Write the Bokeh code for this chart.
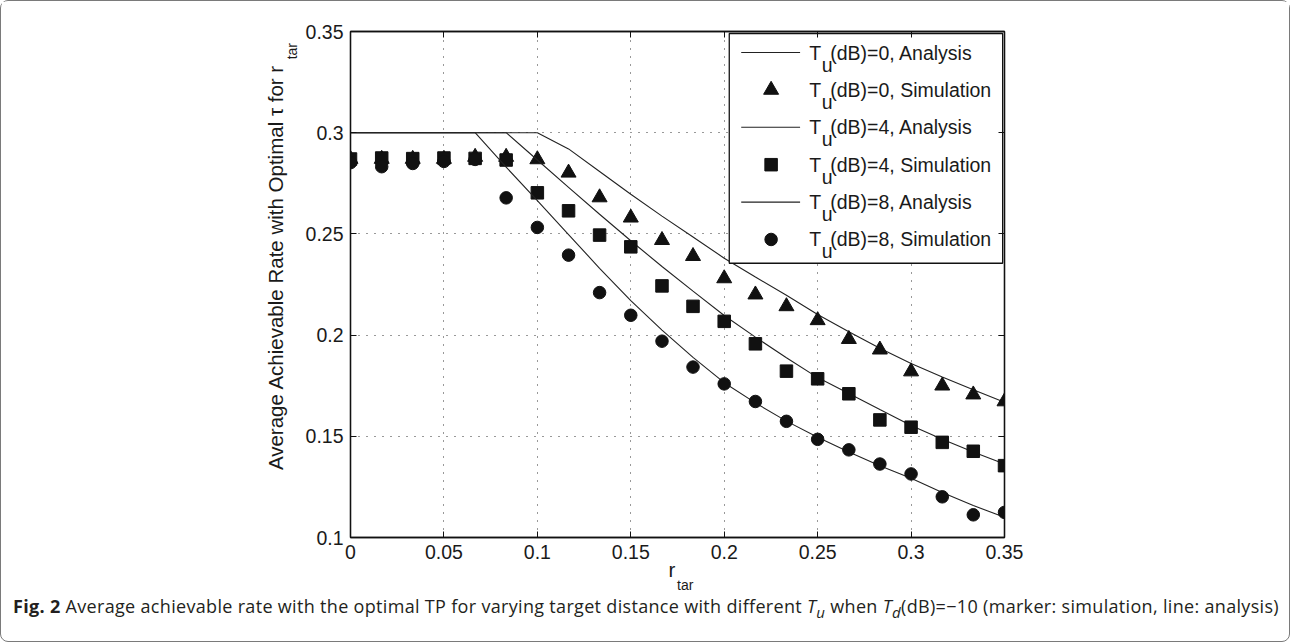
from bokeh.plotting import figure
from bokeh.models import (LinearAxis, FixedTicker, NumeralTickFormatter,
                          CustomJSTickFormatter, Div)
from bokeh.layouts import column
from bokeh.core.properties import value
from bokeh.embed import file_html
from bokeh.resources import INLINE

# ---------------- data ----------------
r_tar = [0.0, 0.0167, 0.0333, 0.05, 0.0667, 0.0833, 0.1, 0.1167, 0.1333, 0.15, 0.1667,
         0.1833, 0.2, 0.2167, 0.2333, 0.25, 0.2667, 0.2833, 0.3, 0.3167, 0.3333, 0.35]

# analysis curves, T_u(dB) = 0 / 4 / 8
ana_tu0 = [0.3, 0.3, 0.3, 0.3, 0.3, 0.3, 0.3, 0.292, 0.2808, 0.2696, 0.2588,
           0.2485, 0.2380, 0.2287, 0.2197, 0.2102, 0.2017, 0.1935, 0.1860, 0.1793, 0.1730, 0.1668]
ana_tu4 = [0.3, 0.3, 0.3, 0.3, 0.3, 0.3, 0.2865, 0.2730, 0.2597, 0.2466, 0.2339,
           0.2217, 0.2097, 0.1990, 0.1888, 0.1790, 0.1711, 0.1632, 0.1553, 0.1485, 0.1422, 0.1363]
ana_tu8 = [0.3, 0.3, 0.3, 0.3, 0.3, 0.2830, 0.2665, 0.2497, 0.2330, 0.2170, 0.2025,
           0.1890, 0.1765, 0.1665, 0.1575, 0.1495, 0.1422, 0.1355, 0.1293, 0.1222, 0.1158, 0.1100]

# simulation results
sim_tu0 = [0.287, 0.287, 0.287, 0.287, 0.288, 0.288, 0.2868, 0.2802, 0.268, 0.258, 0.2469,
           0.239, 0.228, 0.220, 0.2142, 0.2073, 0.198, 0.1928, 0.1820, 0.175, 0.1706, 0.1672]
sim_tu4 = [0.287, 0.2875, 0.2872, 0.2875, 0.2873, 0.2865, 0.2703, 0.2614, 0.2494, 0.2436, 0.2243,
           0.2142, 0.2068, 0.1957, 0.1822, 0.1784, 0.171, 0.1581, 0.1545, 0.147, 0.1426, 0.1355]
sim_tu8 = [0.2852, 0.2832, 0.2848, 0.2858, 0.2868, 0.2678, 0.2532, 0.2395, 0.221, 0.2098, 0.197,
           0.1842, 0.1759, 0.1672, 0.1574, 0.1485, 0.1433, 0.1363, 0.1314, 0.1201, 0.1112, 0.1124]

x_ticks = [0, 0.05, 0.1, 0.15, 0.2, 0.25, 0.3, 0.35]
y_ticks = [0.1, 0.15, 0.2, 0.25, 0.3, 0.35]

legend_labels = ["(dB)=0, Analysis", "(dB)=0, Simulation",
                 "(dB)=4, Analysis", "(dB)=4, Simulation",
                 "(dB)=8, Analysis", "(dB)=8, Simulation"]

x_title, x_title_sub = "r", "tar"
y_title, y_title_sub = "Average Achievable Rate with Optimal \u03c4 for r", "tar"

# ---------------- styling ----------------
FONT = "Liberation Sans"
INK = "#111111"
TEXT = "#1a1a1a"
TICK_FS = "19.5px"
LEG_FS = "19.5px"
LABEL_FS = "20.5px"
SUB_FS = "14px"
NBSP = "\u00a0"

p = figure(width=1288, height=600, x_range=(0, 0.35), y_range=(0.1, 0.35),
           output_backend="svg", toolbar_location=None,
           min_border_left=349, min_border_right=285, min_border_top=30, min_border_bottom=64)
p.background_fill_color = "white"
p.border_fill_color = "white"
p.outline_line_color = INK
p.outline_line_width = 1.3

x_axis = p.xaxis[0]
y_axis = p.yaxis[0]


def style_axis(ax, ticks, show_labels):
    ax.ticker = FixedTicker(ticks=ticks)
    ax.axis_line_color = INK
    ax.axis_line_width = 1.3
    ax.major_tick_in = 6
    ax.major_tick_out = 0
    ax.major_tick_line_color = INK
    ax.minor_tick_line_color = None
    ax.major_label_text_font = FONT
    ax.major_label_text_color = TEXT
    ax.major_label_text_font_size = TICK_FS
    if show_labels:
        ax.formatter = NumeralTickFormatter(format="0.[00]")
        ax.major_label_standoff = 7
    else:
        ax.formatter = CustomJSTickFormatter(code="return ''")
        ax.major_label_standoff = 0


def title_axis(ax, text, size, standoff):
    ax.axis_label = text
    ax.axis_label_text_font = FONT
    ax.axis_label_text_font_size = size
    ax.axis_label_text_font_style = "normal"
    ax.axis_label_text_color = TEXT
    ax.axis_label_standoff = standoff


def bare_axis():
    return LinearAxis(ticker=FixedTicker(ticks=[]), axis_line_color=None,
                      major_tick_line_color=None, minor_tick_line_color=None)


style_axis(x_axis, x_ticks, True)
style_axis(y_axis, y_ticks, True)
top_axis = LinearAxis()
right_axis = LinearAxis()
p.add_layout(top_axis, "above")
p.add_layout(right_axis, "right")
style_axis(top_axis, x_ticks, False)
style_axis(right_axis, y_ticks, False)

# axis titles: the subscript sits on a tick-less companion axis
title_axis(x_axis, x_title + NBSP * 2, LABEL_FS, -4)
x_sub_axis = bare_axis()
p.add_layout(x_sub_axis, "below")
title_axis(x_sub_axis, NBSP * 4 + x_title_sub, SUB_FS, -7)

title_axis(y_axis, NBSP * 120 + y_title_sub, SUB_FS, 3)
y_main_axis = bare_axis()
p.add_layout(y_main_axis, "left")
title_axis(y_main_axis, NBSP * 6 + y_title, LABEL_FS, -6)

for g, ticks in ((p.xgrid[0], x_ticks), (p.ygrid[0], y_ticks)):
    g.ticker = FixedTicker(ticks=ticks)
    g.grid_line_color = "#333333"
    g.grid_line_dash = "1 7"
    g.grid_line_width = 1

# ---------------- series ----------------
LINE_W = 1.1
p.line(r_tar, ana_tu0, line_color="#222222", line_width=LINE_W)
p.scatter(r_tar, sim_tu0, marker="triangle", size=15, fill_color=INK, line_color=INK)
p.line(r_tar, ana_tu4, line_color="#222222", line_width=LINE_W)
p.scatter(r_tar, sim_tu4, marker="square", size=12.5, fill_color=INK, line_color=INK)
p.line(r_tar, ana_tu8, line_color="#222222", line_width=LINE_W)
p.scatter(r_tar, sim_tu8, marker="circle", size=12.5, fill_color=INK, line_color=INK)

# ---------------- legend ----------------
LEG_LEFT, LEG_RIGHT, LEG_TOP, LEG_BOTTOM = 0.2027, 0.3490, 0.3490, 0.2355
ROW0, ROW_STEP = 0.3396, 0.01847
SAMPLE_X0, SAMPLE_X1, MARK_X, TEXT_X = 0.2091, 0.2406, 0.2251, 0.2455

p.quad(left=[LEG_LEFT], right=[LEG_RIGHT], top=[LEG_TOP], bottom=[LEG_BOTTOM],
       fill_color="white", line_color=INK, line_width=1.3)

rows = [ROW0 - i * ROW_STEP for i in range(len(legend_labels))]
markers = ["triangle", "square", "circle"]
sizes = [15, 12.5, 12.5]
for i, ry in enumerate(rows):
    if i % 2 == 0:
        p.line([SAMPLE_X0, SAMPLE_X1], [ry, ry], line_color="#222222", line_width=LINE_W)
    else:
        k = i // 2
        p.scatter([MARK_X], [ry], marker=markers[k], size=sizes[k], fill_color=INK, line_color=INK)

common = dict(text_font=value(FONT), text_font_size=value(LEG_FS), text_color=TEXT,
              text_baseline="middle", text_align="left")
p.text(x=[TEXT_X] * len(rows), y=rows, text=["T"] * len(rows), **common)
p.text(x=[TEXT_X] * len(rows), y=rows, text=["u"] * len(rows), x_offset=12.5, y_offset=12, **common)
p.text(x=[TEXT_X] * len(rows), y=rows, text=legend_labels, x_offset=21, **common)

# ---------------- caption ----------------
caption = Div(
    text=('<b>Fig. 2</b> Average achievable rate with the optimal TP for varying target '
          'distance with different <i>T<sub>u</sub></i> when <i>T<sub>d</sub></i>(dB)=\u221210 '
          '(marker: simulation, line: analysis)'),
    width=1280, height=40,
    styles={"font-family": "Open Sans", "font-size": "18px", "letter-spacing": "0.32px",
            "color": "#231f20", "padding-left": "7px", "white-space": "nowrap",
            "transform": "translateY(-12px)"})

layout = column(p, caption, width=1290, height=642,
                styles={"border": "1px solid #7a7a7a", "border-radius": "8px",
                        "background-color": "white"})

open("out.html", "w").write(file_html(layout, INLINE))
